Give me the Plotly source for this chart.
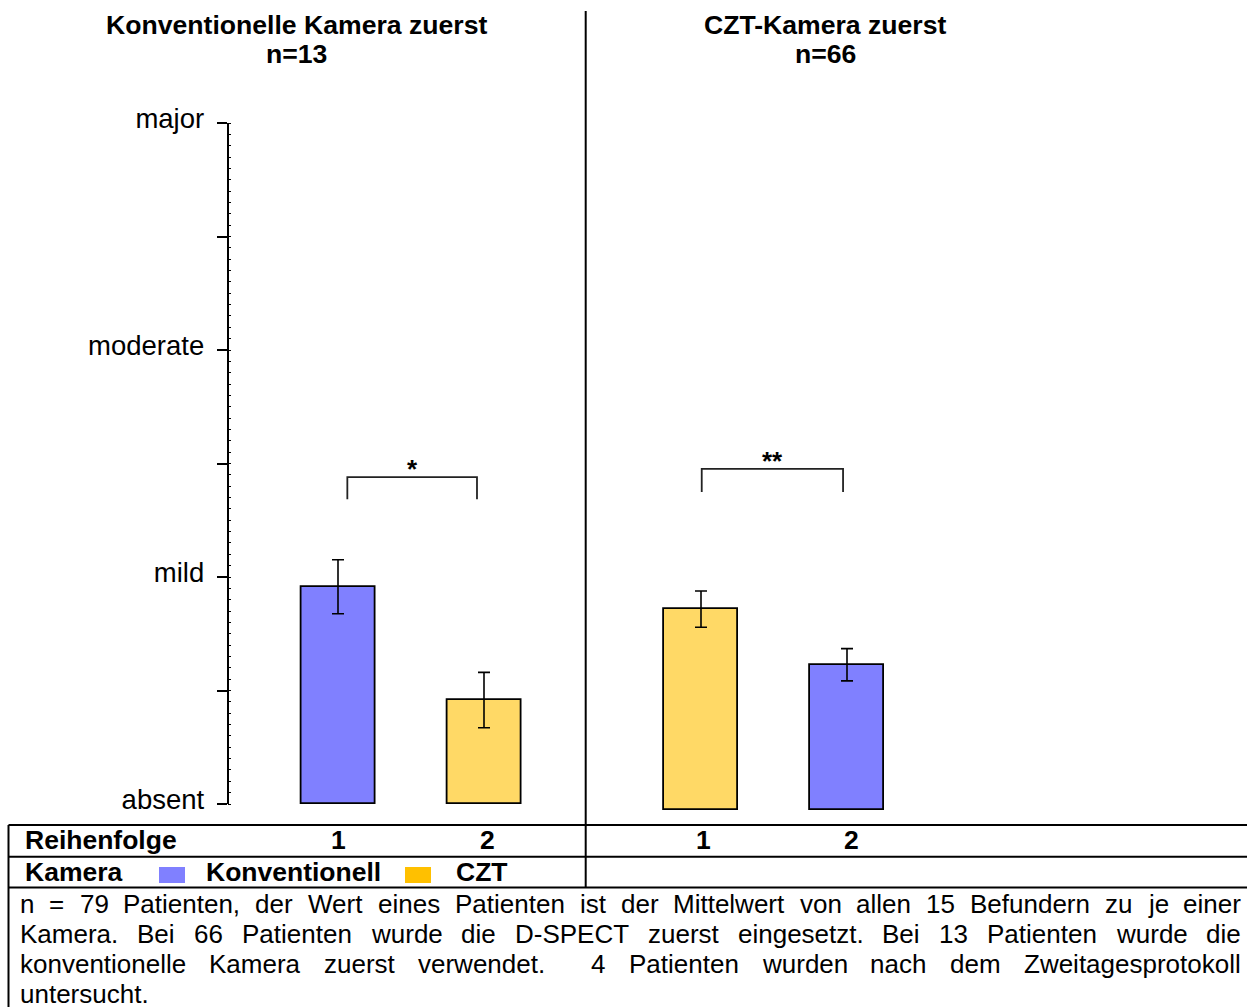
import plotly.graph_objects as go

# ---------------- data ----------------
panel_titles = ["Konventionelle Kamera zuerst", "CZT-Kamera zuerst"]
panel_n = [13, 66]
order = [1, 2]
camera_names = ["Konventionell", "CZT"]
left_cameras = ["Konventionell", "CZT"]
right_cameras = ["CZT", "Konventionell"]
left_means = [0.957, 0.458]
left_errors = [0.119, 0.122]
right_means = [0.885, 0.640]
right_errors = [0.080, 0.071]
severity_labels = ["absent", "mild", "moderate", "major"]
sig_labels = ["*", "**"]
left_bracket_x = [1.064, 1.952]
right_bracket_x = [1.005, 1.973]
bracket_top = [1.440, 1.503]
bracket_bottom = [1.343, 1.401]
row_labels = ["Reihenfolge", "Kamera"]
footnote_lines = [
    "n = 79 Patienten, der Wert eines Patienten ist der Mittelwert von allen 15 Befundern zu je einer",
    "Kamera. Bei 66 Patienten wurde die D-SPECT zuerst eingesetzt. Bei 13 Patienten wurde die",
    "konventionelle Kamera zuerst verwendet.  4 Patienten wurden nach dem Zweitagesprotokoll",
    "untersucht.",
]

# ---------------- styles / layout ----------------
W, H = 1247, 1007
FONT = "Liberation Sans, Arial, Helvetica, sans-serif"
bar_colors = {"Konventionell": "#8080FF", "CZT": "#FFD966"}
legend_colors = {"Konventionell": "#8080FF", "CZT": "#FFC000"}
BAR_WIDTH = 74 / 146


def px_x(p):
    return p / W


def px_y(p):
    return 1 - p / H


def xrange_for(px0, px1, c1, step=146.0):
    return [1 + (px0 - c1) / step, 1 + (px1 - c1) / step]


fig = go.Figure()

fig.add_trace(go.Bar(
    x=order, y=left_means, width=BAR_WIDTH,
    marker=dict(color=[bar_colors[c] for c in left_cameras],
                line=dict(color="black", width=1.8)),
    error_y=dict(type="data", array=left_errors, visible=True,
                 color="black", thickness=1.6, width=6),
    xaxis="x", yaxis="y", hoverinfo="skip"))

fig.add_trace(go.Bar(
    x=order, y=right_means, width=BAR_WIDTH,
    marker=dict(color=[bar_colors[c] for c in right_cameras],
                line=dict(color="black", width=1.8)),
    error_y=dict(type="data", array=right_errors, visible=True,
                 color="black", thickness=1.6, width=6),
    xaxis="x2", yaxis="y2", hoverinfo="skip"))

annotations = []
for i, (bx, ax_x, ax_y) in enumerate([(left_bracket_x, "x", "y"),
                                       (right_bracket_x, "x2", "y2")]):
    fig.add_trace(go.Scatter(
        x=[bx[0], bx[0], bx[1], bx[1]],
        y=[bracket_bottom[i], bracket_top[i], bracket_top[i], bracket_bottom[i]],
        mode="lines", line=dict(color="#222222", width=1.8),
        xaxis=ax_x, yaxis=ax_y, hoverinfo="skip"))
    annotations.append(dict(
        x=(bx[0] + bx[1]) / 2, y=bracket_top[i], xref=ax_x, yref=ax_y,
        text="<b>%s</b>" % sig_labels[i], showarrow=False,
        yanchor="middle", yshift=8,
        font=dict(family=FONT, size=26, color="black")))

tickvals = [k * 0.5 for k in range(7)]
ticktext = []
for k, lab in enumerate(severity_labels):
    ticktext.append(lab)
    if k < len(severity_labels) - 1:
        ticktext.append("")

fig.update_layout(
    width=W, height=H, autosize=False,
    margin=dict(l=0, r=0, t=0, b=0, pad=0, autoexpand=False),
    paper_bgcolor="white", plot_bgcolor="white", showlegend=False,
    font=dict(family=FONT, color="black"),
    bargap=0,
    xaxis=dict(domain=[px_x(228.5), px_x(585)],
               range=xrange_for(228.5, 585, 338), visible=False),
    yaxis=dict(domain=[px_y(804), px_y(123)], range=[0, 3],
               showline=True, linecolor="black", linewidth=1.6,
               ticks="outside", ticklen=10, tickwidth=1.5, tickcolor="black",
               tickmode="array", tickvals=tickvals, ticktext=ticktext,
               tickfont=dict(family=FONT, size=27.5, color="black"),
               ticklabelstandoff=7, ticklabelshift=-5, automargin=False,
               showgrid=False, zeroline=False,
               minor=dict(ticks="inside", ticklen=3, tickwidth=1,
                          tickcolor="black", dtick=0.05, tick0=0,
                          showgrid=False)),
    xaxis2=dict(domain=[px_x(586), 1], range=xrange_for(586, W, 701),
                visible=False, anchor="y2"),
    yaxis2=dict(domain=[px_y(810), px_y(129)], range=[0, 3],
                visible=False, anchor="x2"),
)

# panel titles
title_cx = [296.5, 825.5]
for i in range(2):
    annotations.append(dict(
        x=px_x(title_cx[i]), y=px_y(25.5), xref="paper", yref="paper",
        text="<b>%s</b>" % panel_titles[i], showarrow=False,
        xanchor="center", yanchor="middle",
        font=dict(family=FONT, size=26.6, color="black")))
    annotations.append(dict(
        x=px_x(title_cx[i]), y=px_y(54.5), xref="paper", yref="paper",
        text="<b>n=%d</b>" % panel_n[i], showarrow=False,
        xanchor="center", yanchor="middle",
        font=dict(family=FONT, size=26.6, color="black")))

# table rows
TFS = 26.5
ROW1_Y, ROW2_Y = 840, 872
annotations.append(dict(
    x=px_x(23), y=px_y(ROW1_Y), xref="paper", yref="paper",
    text="<b>%s</b>" % row_labels[0], showarrow=False,
    xanchor="left", yanchor="middle",
    font=dict(family=FONT, size=TFS, color="black")))
annotations.append(dict(
    x=px_x(23), y=px_y(ROW2_Y), xref="paper", yref="paper",
    text="<b>%s</b>" % row_labels[1], showarrow=False,
    xanchor="left", yanchor="middle",
    font=dict(family=FONT, size=TFS, color="black")))
order_label_shift = {"x": [0, 3], "x2": [2, 4]}
for ax_x in ["x", "x2"]:
    for j, o in enumerate(order):
        annotations.append(dict(
            x=o, y=px_y(ROW1_Y), xref=ax_x, yref="paper",
            text="<b>%d</b>" % o, showarrow=False,
            xanchor="center", yanchor="middle",
            xshift=order_label_shift[ax_x][j],
            font=dict(family=FONT, size=TFS, color="black")))

shapes = []
legend_sq_x = [159, 405]
legend_txt_x = [204, 454]
for i, cam in enumerate(camera_names):
    shapes.append(dict(type="rect", xref="paper", yref="paper",
                       x0=px_x(legend_sq_x[i]), x1=px_x(legend_sq_x[i] + 26),
                       y0=px_y(883), y1=px_y(867),
                       fillcolor=legend_colors[cam], line=dict(width=0)))
    annotations.append(dict(
        x=px_x(legend_txt_x[i]), y=px_y(ROW2_Y), xref="paper", yref="paper",
        text="<b>%s</b>" % cam, showarrow=False,
        xanchor="left", yanchor="middle",
        font=dict(family=FONT, size=TFS, color="black")))

# table lines
LW = 2
for yy in [825, 856.7, 887.5]:
    shapes.append(dict(type="line", xref="paper", yref="paper",
                       x0=px_x(8.5), x1=1, y0=px_y(yy), y1=px_y(yy),
                       line=dict(color="black", width=LW)))
shapes.append(dict(type="line", xref="paper", yref="paper",
                   x0=px_x(8.5), x1=px_x(8.5), y0=px_y(825), y1=0,
                   line=dict(color="black", width=LW)))
shapes.append(dict(type="line", xref="paper", yref="paper",
                   x0=px_x(585.7), x1=px_x(585.7), y0=px_y(11), y1=px_y(887.5),
                   line=dict(color="black", width=LW)))

# footnote (justified)
ARIAL = {}
for ch, w in zip("abcdefghijklmnopqrstuvwxyz",
                 [556, 556, 500, 556, 556, 278, 556, 556, 222, 222, 500, 222, 833,
                  556, 556, 556, 556, 333, 500, 278, 556, 500, 722, 500, 500, 500]):
    ARIAL[ch] = w
for ch, w in zip("ABCDEFGHIJKLMNOPQRSTUVWXYZ",
                 [667, 667, 722, 722, 667, 611, 778, 722, 278, 500, 667, 556, 833,
                  722, 778, 667, 778, 722, 667, 611, 722, 667, 944, 667, 667, 611]):
    ARIAL[ch] = w
for ch in "0123456789":
    ARIAL[ch] = 556
ARIAL.update({" ": 278, ",": 278, ".": 278, "-": 333, "=": 584})

FN_SIZE = 26


def tw(s):
    return sum(ARIAL.get(c, 556) for c in s) * FN_SIZE / 1000.0


FN_LEFT, FN_RIGHT = 19, 1239.5
fn_y = [904, 934.2, 964.4, 993.5]
for li, line in enumerate(footnote_lines):
    tokens = line.split(" ")
    if li < len(footnote_lines) - 1 and len(tokens) > 1:
        total = sum(tw(t) for t in tokens)
        gap = (FN_RIGHT - FN_LEFT - total) / (len(tokens) - 1)
    else:
        gap = tw(" ")
    x = FN_LEFT
    for t in tokens:
        if t:
            annotations.append(dict(
                x=px_x(x - 1), y=px_y(fn_y[li]), xref="paper", yref="paper",
                text=t, showarrow=False, xanchor="left", yanchor="middle",
                font=dict(family=FONT, size=FN_SIZE, color="black")))
        x += tw(t) + gap

fig.update_layout(annotations=annotations, shapes=shapes)

page_fix = (
    "document.documentElement.style.margin='0';"
    "document.documentElement.style.overflow='hidden';"
    "document.body.style.margin='0';"
    "document.body.style.padding='0';"
    "document.body.style.overflow='hidden';"
)
fig.write_html("out.html", config={"responsive": False, "displayModeBar": False},
               post_script=page_fix)
